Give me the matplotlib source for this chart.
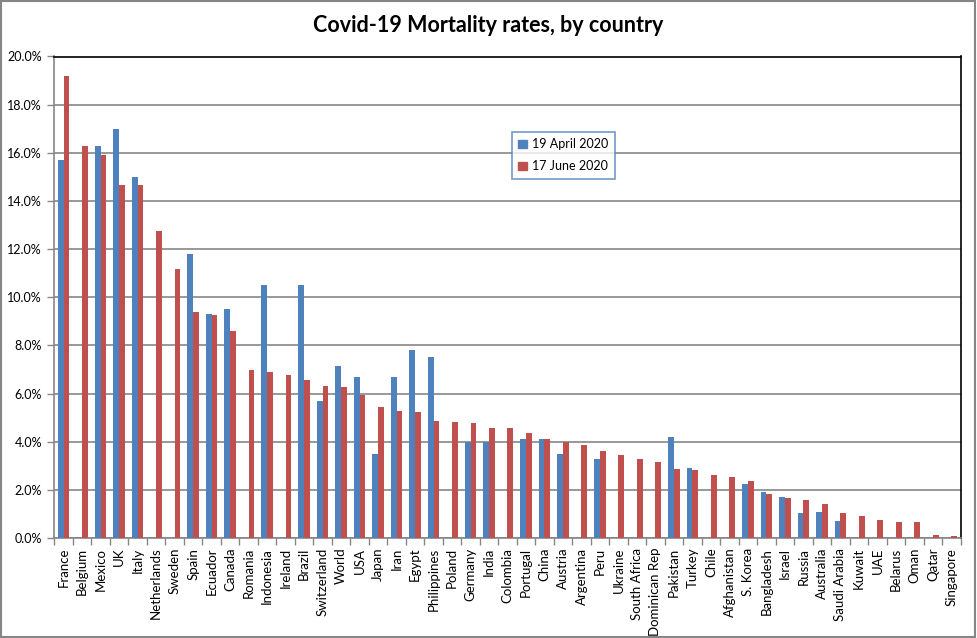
# Covid-19 mortality rates by country, two snapshot dates
import numpy as np
from matplotlib import pyplot as plt
from matplotlib.patches import Patch, Rectangle

nan = np.nan

countries = ["France", "Belgium", "Mexico", "UK", "Italy", "Netherlands", "Sweden",
             "Spain", "Ecuador", "Canada", "Romania", "Indonesia", "Ireland", "Brazil",
             "Switzerland", "World", "USA", "Japan", "Iran", "Egypt", "Philippines",
             "Poland", "Germany", "India", "Colombia", "Portugal", "China", "Austria",
             "Argentina", "Peru", "Ukraine", "South Africa", "Dominican Rep", "Pakistan",
             "Turkey", "Chile", "Afghanistan", "S. Korea", "Bangladesh", "Israel",
             "Russia", "Australia", "Saudi Arabia", "Kuwait", "UAE", "Belarus", "Oman",
             "Qatar", "Singapore"]

# % mortality, 19 April 2020 (nan = not reported)
april = [15.7, nan, 16.3, 17.0, 15.0, nan, nan,
         11.8, 9.3, 9.5, nan, 10.5, nan, 10.5,
         5.7, 7.15, 6.7, 3.5, 6.7, 7.8, 7.5,
         nan, 4.0, 4.0, nan, 4.1, 4.1, 3.5,
         nan, 3.3, nan, nan, nan, 4.2,
         2.9, nan, nan, 2.25, 1.9, 1.7,
         1.05, 1.1, 0.72, nan, nan, nan, nan,
         nan, nan]

# % mortality, 17 June 2020
june = [19.2, 16.27, 15.9, 14.65, 14.65, 12.75, 11.16,
        9.38, 9.25, 8.6, 6.97, 6.9, 6.76, 6.56,
        6.31, 6.27, 5.93, 5.44, 5.27, 5.23, 4.85,
        4.82, 4.77, 4.56, 4.56, 4.36, 4.11, 4.0,
        3.86, 3.61, 3.44, 3.28, 3.15, 2.86,
        2.82, 2.61, 2.53, 2.37, 1.83, 1.66,
        1.58, 1.41, 1.04, 0.91, 0.75, 0.66, 0.66,
        0.12, 0.08]

labels = ["19 April 2020", "17 June 2020"]
blue = "#4F81BD"
red = "#C0504D"
grey = "#868686"

plt.rcParams["font.family"] = ["Lato", "DejaVu Sans"]

fig = plt.figure(figsize=(9.77, 6.38), dpi=100)
fig.patches.append(Rectangle((0.001, 0.002), 0.997, 0.996, transform=fig.transFigure,
                             fill=False, edgecolor=grey, linewidth=1.5))
ax = fig.add_axes([54.3 / 977, 1 - 538 / 638, (960.7 - 54.3) / 977, (538 - 56.5) / 638])

x = np.arange(len(countries))
w = 0.3
ax.bar(x - w / 2, april, w, color=blue, zorder=3)
ax.bar(x + w / 2, june, w, color=red, zorder=3)

ax.set_xlim(-0.5, len(countries) - 0.5)
ax.set_ylim(0, 20)
ax.set_yticks(np.arange(0, 21, 2))
ax.set_yticklabels(["{:.1f}%".format(v) for v in np.arange(0, 21, 2)])
ax.yaxis.grid(True, color=grey, linewidth=1.2, zorder=0)

ax.set_xticks(x)
ax.set_xticklabels(countries, rotation=90)
ax.set_xticks(np.arange(-0.5, len(countries), 1), minor=True)
ax.tick_params(axis="x", which="major", length=0, pad=7, labelsize=9.5)
ax.tick_params(axis="x", which="minor", length=5, color=grey, width=1)
ax.tick_params(axis="y", length=5, color=grey, width=1, labelsize=9, pad=4)

for s in ["left", "bottom"]:
    ax.spines[s].set_color(grey)
    ax.spines[s].set_linewidth(1.2)
for s in ["top", "right"]:
    ax.spines[s].set_color("black")
    ax.spines[s].set_linewidth(1.2)

fig.text(0.5, 1 - 26 / 638, "Covid-19 Mortality rates, by country", ha="center",
         va="center", fontsize=15.5, fontweight="bold")

handles = [Patch(color=blue), Patch(color=red)]
leg = fig.legend(handles, labels, loc="upper left",
                 bbox_to_anchor=(512 / 977, 1 - 132 / 638), fontsize=9,
                 frameon=True, fancybox=False, handlelength=0.7, handleheight=0.7,
                 handletextpad=0.4, labelspacing=0.8, borderpad=0.5,
                 borderaxespad=0)
leg.get_frame().set_edgecolor(blue)
leg.get_frame().set_linewidth(1.2)

plt.savefig("out.png", dpi=100)
